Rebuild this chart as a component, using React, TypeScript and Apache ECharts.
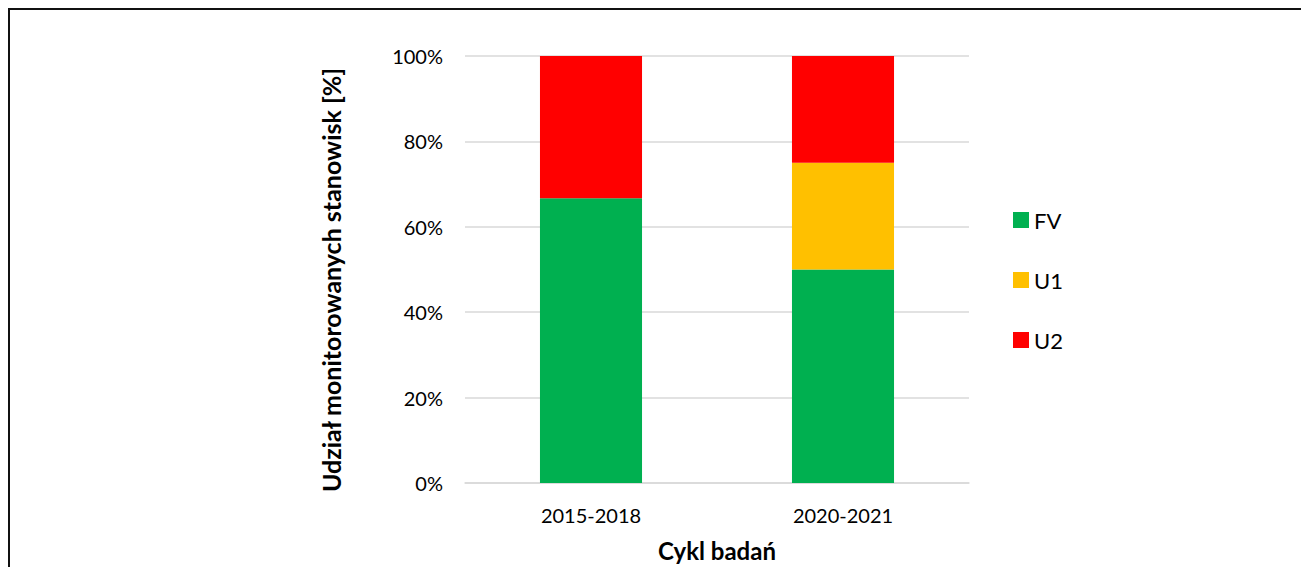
import React, { useEffect, useRef } from "react";
import * as echarts from "echarts";

const categories = ["2015-2018", "2020-2021"];
const seriesNames = ["FV", "U1", "U2"];
const fvValues = [66.7, 50];
const u1Values = [0, 25];
const u2Values = [33.3, 25];
const colors = ["#00B050", "#FFC000", "#FF0000"];
const yTicks = [0, 20, 40, 60, 80, 100];
const yAxisTitle = "Udział monitorowanych stanowisk [%]";
const xAxisTitle = "Cykl badań";

export default function App() {
  const ref = useRef<HTMLDivElement>(null);
  useEffect(() => {
    if (!ref.current) return;
    const chart = echarts.init(ref.current, undefined, { renderer: "svg" });
    const font = "Lato, 'Open Sans', sans-serif";
    const data = [fvValues, u1Values, u2Values];
    chart.setOption({
      animation: false,
      backgroundColor: "transparent",
      textStyle: { fontFamily: font },
      grid: { left: 465, right: 332, top: 56, bottom: 84, outerBoundsMode: "none", containLabel: false },
      legend: {
        orient: "vertical",
        left: 1008,
        top: 204,
        itemWidth: 16,
        itemHeight: 16,
        itemGap: 38,
        icon: "rect",
        data: seriesNames,
        textStyle: { fontFamily: font, fontSize: 22, color: "#000" },
      },
      graphic: [
        {
          type: "text",
          x: 331,
          y: 280,
          rotation: Math.PI / 2,
          style: {
            text: yAxisTitle,
            align: "center",
            verticalAlign: "middle",
            fill: "#000",
            fontSize: 25,
            fontWeight: "bold",
            fontFamily: font,
          },
        },
      ],
      xAxis: {
        type: "category",
        data: categories,
        axisTick: { show: false },
        axisLine: { lineStyle: { color: "#D9D9D9", width: 1.5 } },
        axisLabel: { color: "#000", fontSize: 20, fontFamily: font, margin: 22 },
        name: xAxisTitle,
        nameLocation: "middle",
        nameGap: 55,
        nameTextStyle: { color: "#000", fontSize: 24, fontWeight: "bold", fontFamily: font },
      },
      yAxis: {
        type: "value",
        min: 0,
        max: 100,
        interval: 20,
        axisLine: { show: false },
        axisTick: { show: false },
        splitLine: { lineStyle: { color: "#D9D9D9", width: 1.5 } },
        axisLabel: {
          color: "#000",
          fontSize: 20,
          fontFamily: font,
          margin: 22,
          formatter: (v: number) => (yTicks.includes(v) ? v + "%" : ""),
        },
      },
      series: seriesNames.map((name, i) => ({
        name,
        type: "bar",
        stack: "total",
        barWidth: "40.5%",
        itemStyle: { color: colors[i] },
        data: data[i],
      })),
    });
    return () => chart.dispose();
  }, []);
  return (
    <div style={{ position: "fixed", left: 0, top: 0, width: 1301, height: 567, overflow: "hidden", background: "#fff" }}>
      <div
        style={{
          position: "absolute",
          left: 8,
          top: 8,
          width: 1400,
          height: 700,
          borderTop: "2.5px solid #111",
          borderLeft: "2.5px solid #111",
          boxSizing: "border-box",
        }}
      />
      <div ref={ref} style={{ position: "absolute", left: 0, top: 0, width: 1301, height: 567 }} />
    </div>
  );
}
